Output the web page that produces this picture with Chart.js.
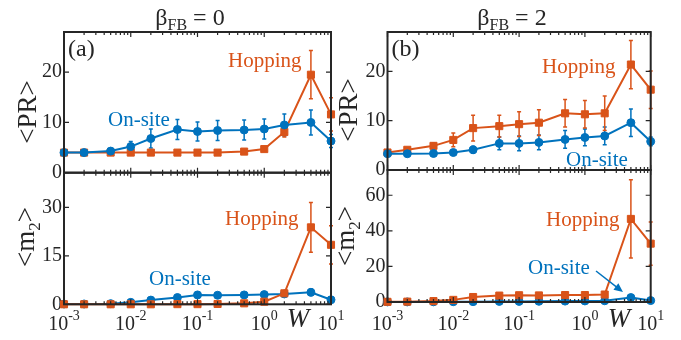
<!DOCTYPE html>
<html>
<head>
<meta charset="utf-8">
<script src="https://cdn.jsdelivr.net/npm/chart.js@4.4.1/dist/chart.umd.min.js"></script>
<style>
  body { margin: 0; background: #fff; }
  #wrap { position: relative; width: 681px; height: 340px; background: #fff; }
  #wrap canvas { position: absolute; left: 0; top: 0; }
</style>
</head>
<body>
<div id="wrap">
  <canvas id="prA" width="681" height="340"></canvas>
  <canvas id="m2A" width="681" height="340"></canvas>
  <canvas id="prB" width="681" height="340"></canvas>
  <canvas id="m2B" width="681" height="340"></canvas>
</div>
<script>
// valores de W (eje x, logaritmico)
const W = [0.001, 0.002, 0.005, 0.01, 0.02, 0.05, 0.1, 0.2, 0.5, 1, 2, 5, 10];
const xMajor = [-3, -2, -1, 0, 1]; // exponentes de las etiquetas 10^n

// (a) beta_FB = 0, <PR>
const prA_onsite     = [4.0, 4.0, 4.3, 5.2, 6.8, 8.6, 8.2, 8.4, 8.5, 8.7, 9.5, 10.0, 6.3];
const prA_onsiteErr  = [0.2, 0.2, 0.3, 1.0, 1.9, 2.0, 1.9, 2.0, 2.0, 2.0, 2.2, 2.5, 1.3];
const prA_hop        = [4.0, 4.0, 4.0, 4.0, 4.0, 4.0, 4.0, 4.0, 4.2, 4.7, 8.1, 19.5, 11.6];
const prA_hopErr     = [0.1, 0.1, 0.1, 0.1, 0.1, 0.1, 0.1, 0.1, 0.2, 0.3, 1.0, 4.8, 3.3];
// (a) <m2>
const m2A_onsite     = [0.1, 0.1, 0.2, 0.6, 1.3, 2.1, 2.9, 2.8, 2.9, 3.0, 3.2, 3.7, 1.4];
const m2A_onsiteErr  = [0.05, 0.05, 0.1, 0.3, 0.4, 0.5, 0.8, 0.7, 0.7, 0.7, 0.8, 1.0, 0.4];
const m2A_hop        = [0, 0, 0, 0, 0, 0.05, 0.05, 0.1, 0.3, 0.8, 3.4, 23.8, 18.4];
const m2A_hopErr     = [0, 0, 0, 0, 0, 0, 0, 0, 0.1, 0.2, 0.5, 7.7, 5.9];

// (b) beta_FB = 2, <PR>
const prB_onsite     = [3.3, 3.3, 3.35, 3.55, 4.1, 5.4, 5.4, 5.6, 6.2, 6.6, 6.9, 9.6, 5.8];
const prB_onsiteErr  = [0.3, 0.3, 0.3, 0.3, 0.7, 1.3, 1.5, 1.5, 1.8, 1.7, 1.8, 2.8, 0.9];
const prB_hop        = [3.55, 4.1, 4.9, 6.1, 8.5, 8.9, 9.3, 9.6, 11.5, 11.3, 11.5, 21.4, 16.3];
const prB_hopErr     = [0.3, 0.4, 0.6, 1.4, 2.6, 2.2, 2.5, 2.6, 2.8, 2.8, 3.5, 4.9, 3.8];
// (b) <m2>
const m2B_onsite     = [0.05, 0.05, 0.1, 0.15, 0.2, 0.35, 0.35, 0.4, 0.5, 0.6, 0.7, 2.5, 0.8];
const m2B_onsiteErr  = [0.02, 0.02, 0.05, 0.05, 0.1, 0.1, 0.1, 0.1, 0.2, 0.2, 0.2, 0.6, 0.3];
const m2B_hop        = [0.1, 0.2, 0.5, 1.2, 2.8, 3.6, 3.8, 3.7, 3.9, 3.9, 4.2, 46.7, 32.8];
const m2B_hopErr     = [0.05, 0.1, 0.2, 0.5, 1.0, 1.2, 1.3, 1.2, 1.3, 1.3, 1.3, 22, 12.2];

// ticks del eje y
const prTicks  = [0, 10, 20];
const m2ATicks = [0, 15, 30];
const m2BTicks = [0, 20, 40, 60];

const ORANGE = '#D95319';
const BLUE = '#0072BD';
const AXIS = '#262626';
const FONT = '"Liberation Serif", "Times New Roman", serif';

function pts(ys) {
  return W.map((w, i) => ({ x: w, y: ys[i] }));
}

function serie(ys, color, style) {
  return {
    data: pts(ys),
    borderColor: color,
    backgroundColor: color,
    pointBackgroundColor: color,
    pointBorderColor: color,
    pointStyle: style,
    pointRadius: style === 'rect' ? 5 : 4,
    pointBorderWidth: 1,
    borderWidth: 2,
    tension: 0,
    clip: false
  };
}

// dibuja texto con subindice / superindice
function textSub(ctx, parts, x, y, align) {
  let total = 0;
  parts.forEach(p => { ctx.font = p.size + 'px ' + FONT; total += ctx.measureText(p.t).width; });
  let cx = align === 'center' ? x - total / 2 : x;
  parts.forEach(p => {
    ctx.font = p.size + 'px ' + FONT;
    ctx.textAlign = 'left';
    ctx.fillText(p.t, cx, y + (p.dy || 0));
    cx += ctx.measureText(p.t).width;
  });
}

// plugin: marco, ticks, barras de error y textos
function panelPlugin(meta) {
  return {
    id: 'panel',
    beforeDatasetsDraw(chart) {
      const ctx = chart.ctx;
      const ys = chart.scales.y;
      ctx.save();
      meta.errs.forEach((err, i) => {
        const pm = chart.getDatasetMeta(i);
        const vals = chart.data.datasets[i].data;
        ctx.strokeStyle = chart.data.datasets[i].borderColor;
        ctx.lineWidth = 1.5;
        pm.data.forEach((el, j) => {
          if (!err[j]) return;
          const y1 = ys.getPixelForValue(vals[j].y - err[j]);
          const y2 = ys.getPixelForValue(vals[j].y + err[j]);
          ctx.beginPath();
          ctx.moveTo(el.x, y1); ctx.lineTo(el.x, y2);
          ctx.moveTo(el.x - 2, y1); ctx.lineTo(el.x + 2, y1);
          ctx.moveTo(el.x - 2, y2); ctx.lineTo(el.x + 2, y2);
          ctx.stroke();
        });
      });
      ctx.restore();
    },
    afterDraw(chart) {
      const ctx = chart.ctx;
      const a = chart.chartArea;
      const xs = chart.scales.x;
      const ys = chart.scales.y;
      ctx.save();
      ctx.strokeStyle = AXIS;
      ctx.fillStyle = AXIS;

      // ticks x (mayores y menores), arriba y abajo, hacia dentro
      ctx.lineWidth = 1.2;
      ctx.beginPath();
      for (let e = -3; e <= 1; e++) {
        for (let k = 1; k <= 9; k++) {
          const v = k * Math.pow(10, e);
          if (v > 10.0001) break;
          const px = xs.getPixelForValue(v);
          const len = k === 1 ? 5 : 3;
          ctx.moveTo(px, a.bottom); ctx.lineTo(px, a.bottom - len);
          ctx.moveTo(px, a.top); ctx.lineTo(px, a.top + len);
        }
      }
      // ticks y a izquierda y derecha
      meta.yTicks.forEach(v => {
        const py = ys.getPixelForValue(v);
        ctx.moveTo(a.left, py); ctx.lineTo(a.left + 5, py);
        ctx.moveTo(a.right, py); ctx.lineTo(a.right - 5, py);
      });
      ctx.stroke();

      // marco
      ctx.lineWidth = 2;
      ctx.strokeRect(a.left, a.top, a.right - a.left, a.bottom - a.top);

      ctx.textBaseline = 'alphabetic';

      // etiquetas del eje x con superindice
      if (meta.showX) {
        xMajor.forEach(e => {
          const px = xs.getPixelForValue(Math.pow(10, e));
          textSub(ctx, [{ t: '10', size: 20 }, { t: String(e), size: 14, dy: -10 }], px, 330, 'center');
        });
        ctx.font = 'italic 27px ' + FONT;
        ctx.textAlign = 'center';
        ctx.fillText('W', meta.wX, 327);
      }

      // titulo
      if (meta.title) {
        textSub(ctx, [{ t: 'β', size: 24 }, { t: 'FB', size: 16, dy: 5 }, { t: ' = ' + meta.title, size: 24 }], meta.titleX, 25, 'center');
      }

      // letra del panel
      if (meta.letter) {
        ctx.font = '24px ' + FONT;
        ctx.textAlign = 'left';
        ctx.fillText(meta.letter, a.left + 4, 56);
      }

      // titulo del eje y (rotado)
      ctx.save();
      ctx.translate(meta.yLabelX, meta.yLabelY);
      ctx.rotate(-Math.PI / 2);
      if (meta.yLabel === 'PR') {
        ctx.font = '27px ' + FONT;
        ctx.textAlign = 'center';
        ctx.fillText('<PR>', 0, 9);
      } else {
        textSub(ctx, [{ t: '<m', size: 27 }, { t: '2', size: 17, dy: 6 }, { t: '>', size: 27 }], 0, 9, 'center');
      }
      ctx.restore();

      // anotaciones
      ctx.font = '21px ' + FONT;
      ctx.textAlign = 'left';
      meta.notes.forEach(n => {
        ctx.fillStyle = n.color;
        ctx.fillText(n.t, n.x, n.y);
      });

      // flecha
      if (meta.arrow) {
        const [x1, y1, x2, y2] = meta.arrow;
        const ang = Math.atan2(y2 - y1, x2 - x1);
        ctx.strokeStyle = BLUE;
        ctx.fillStyle = BLUE;
        ctx.lineWidth = 1.5;
        ctx.beginPath();
        ctx.moveTo(x1, y1);
        ctx.lineTo(x2 - 6 * Math.cos(ang), y2 - 6 * Math.sin(ang));
        ctx.stroke();
        ctx.beginPath();
        ctx.moveTo(x2, y2);
        ctx.lineTo(x2 - 9 * Math.cos(ang) + 4 * Math.sin(ang), y2 - 9 * Math.sin(ang) - 4 * Math.cos(ang));
        ctx.lineTo(x2 - 9 * Math.cos(ang) - 4 * Math.sin(ang), y2 - 9 * Math.sin(ang) + 4 * Math.cos(ang));
        ctx.closePath();
        ctx.fill();
      }
      ctx.restore();
    }
  };
}

// crea un panel; area = [izq, der, arriba, abajo] en pixeles
function makePanel(id, datasets, yMax, yTicks, area, yAxisW, meta) {
  meta.yTicks = yTicks;
  return new Chart(document.getElementById(id), {
    type: 'line',
    data: { datasets: datasets },
    options: {
      responsive: false,
      animation: false,
      devicePixelRatio: 1,
      layout: {
        padding: { left: area[0] - yAxisW, right: 681 - area[1], top: area[2], bottom: 340 - area[3] }
      },
      plugins: { legend: { display: false }, tooltip: { enabled: false } },
      scales: {
        x: { type: 'logarithmic', min: 0.001, max: 10, display: false },
        y: {
          min: 0,
          max: yMax,
          afterBuildTicks: s => { s.ticks = yTicks.map(v => ({ value: v })); },
          afterFit: s => { s.width = yAxisW; },
          grid: { display: false, drawTicks: false, tickLength: 0 },
          border: { display: false },
          ticks: { padding: 2, color: AXIS, font: { family: FONT, size: 20 } }
        }
      }
    },
    plugins: [panelPlugin(meta)]
  });
}

// (a) arriba
makePanel('prA',
  [serie(prA_onsite, BLUE, 'circle'), serie(prA_hop, ORANGE, 'rect')],
  28, prTicks, [64, 331, 32, 172.7], 64,
  { errs: [prA_onsiteErr, prA_hopErr], title: '0', titleX: 190, letter: '(a)',
    yLabel: 'PR', yLabelX: 27, yLabelY: 112,
    notes: [{ t: 'Hopping', x: 228, y: 67, color: ORANGE }, { t: 'On-site', x: 108, y: 126, color: BLUE }] });

// (a) abajo
makePanel('m2A',
  [serie(m2A_hop, ORANGE, 'rect'), serie(m2A_onsite, BLUE, 'circle')],
  40.7, m2ATicks, [64, 331, 172.7, 304.3], 64,
  { errs: [m2A_hopErr, m2A_onsiteErr], showX: true, wX: 298,
    yLabel: 'm2', yLabelX: 25, yLabelY: 237,
    notes: [{ t: 'Hopping', x: 225, y: 225, color: ORANGE }, { t: 'On-site', x: 149, y: 285, color: BLUE }] });

// (b) arriba
makePanel('prB',
  [serie(prB_onsite, BLUE, 'circle'), serie(prB_hop, ORANGE, 'rect')],
  28, prTicks, [387.5, 650.7, 32, 170], 60,
  { errs: [prB_onsiteErr, prB_hopErr], title: '2', titleX: 512, letter: '(b)',
    yLabel: 'PR', yLabelX: 348, yLabelY: 110,
    notes: [{ t: 'Hopping', x: 542, y: 73, color: ORANGE }, { t: 'On-site', x: 566, y: 166, color: BLUE }] });

// (b) abajo
makePanel('m2B',
  [serie(m2B_hop, ORANGE, 'rect'), serie(m2B_onsite, BLUE, 'circle')],
  74.2, m2BTicks, [387.5, 650.7, 170, 302], 60,
  { errs: [m2B_hopErr, m2B_onsiteErr], showX: true, wX: 619,
    yLabel: 'm2', yLabelX: 345, yLabelY: 236,
    notes: [{ t: 'Hopping', x: 546, y: 226, color: ORANGE }, { t: 'On-site', x: 528, y: 274, color: BLUE }],
    arrow: [596, 271, 623, 292] });
</script>
</body>
</html>
